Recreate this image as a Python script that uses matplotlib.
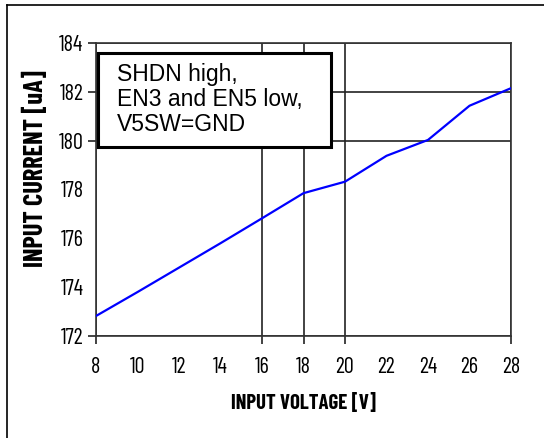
import numpy as np
import matplotlib.pyplot as plt
from matplotlib.lines import Line2D
from matplotlib.patches import Rectangle
from matplotlib.ticker import FixedLocator

# input voltage (V) vs input current (uA)
volts = [8, 10, 12, 14, 16, 18, 20, 22, 24, 26, 28]
current = [172.82, 173.8, 174.8, 175.8, 176.82, 177.85, 178.32, 179.38, 180.03, 181.43, 182.15]

xticks = [8, 10, 12, 14, 16, 18, 20, 22, 24, 26, 28]
yticks = [172, 174, 176, 178, 180, 182, 184]
xgrid = [8, 16, 18, 20, 28]
ygrid = [172, 180, 182, 184]
note = "SHDN high,\nEN3 and EN5 low,\nV5SW=GND"

narrow = ['Barlow Condensed', 'DejaVu Sans']

fig = plt.figure(figsize=(5.44, 4.38), dpi=100)
W, H = 544, 438
ax = fig.add_axes([96 / W, 1 - 336 / H, 415 / W, 293 / H])

ax.plot(volts, current, color='#0000ff', lw=1.6, zorder=4)

ax.set_xlim(8, 28)
ax.set_ylim(172, 184)
ax.set_xticks(xticks)
ax.set_yticks(yticks)
ax.xaxis.set_minor_locator(FixedLocator(xgrid))
ax.yaxis.set_minor_locator(FixedLocator(ygrid))
ax.xaxis.remove_overlapping_locs = False
ax.yaxis.remove_overlapping_locs = False
ax.tick_params(which='major', length=0)
ax.tick_params(axis='x', which='major', pad=15)
ax.tick_params(axis='y', which='major', pad=9)
ax.tick_params(which='minor', length=6, width=1.2, direction='out', color='#222222')
ax.grid(which='minor', color='#222222', lw=1.2)
for lab in ax.get_xticklabels() + ax.get_yticklabels():
    lab.set_family(narrow)
    lab.set_fontsize(16)
for sp in ax.spines.values():
    sp.set_color('#333333')
    sp.set_linewidth(1.2)

ax.set_xlabel('INPUT VOLTAGE [V]', family=narrow, fontsize=15, fontweight='bold', va='center')
ax.set_ylabel('INPUT CURRENT [uA]', family=narrow, fontsize=19, fontweight='bold', va='center')
ax.xaxis.set_label_coords(0.5, -0.229)
ax.yaxis.set_label_coords(-0.145, 0.572)

# annotation box
ax.add_patch(Rectangle((0.0055, 0.645), 0.56, 0.322, transform=ax.transAxes,
                       facecolor='white', edgecolor='black', lw=2.2, zorder=5))
ax.text(0.05, 0.808, note, transform=ax.transAxes, ha='left', va='center',
        family=['Liberation Sans', 'DejaVu Sans'], fontsize=16.5, linespacing=1.12, zorder=6)

# outer frame (top and left)
fig.add_artist(Line2D([7 / W, 1], [1 - 5 / H, 1 - 5 / H], color='black', lw=1.2))
fig.add_artist(Line2D([7 / W, 7 / W], [0, 1 - 5 / H], color='black', lw=1.2))

fig.savefig('out.png', dpi=100)
